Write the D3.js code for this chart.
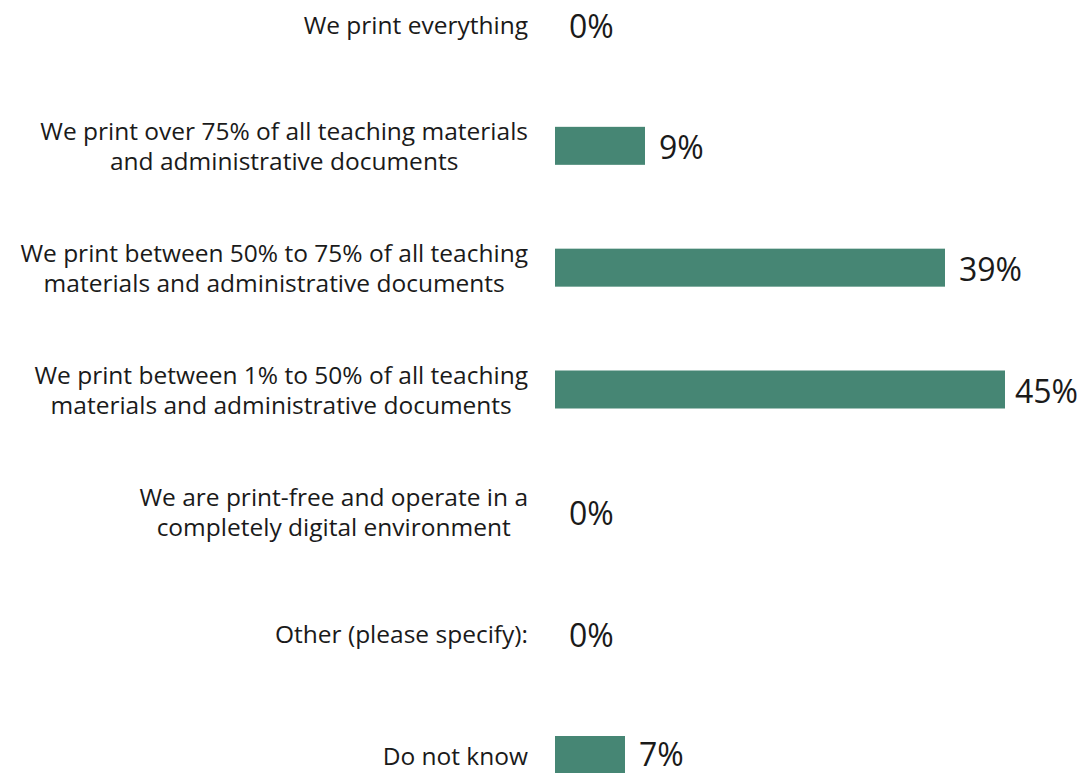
<!DOCTYPE html>
<html><head><meta charset="utf-8">
<script src="https://cdn.jsdelivr.net/npm/d3@7"></script>
<style>body{margin:0;background:#fff}</style>
</head><body>
<svg id="c" width="1081" height="773"></svg>
<script>
const categories = [
  ["We print everything"],
  ["We print over 75% of all teaching materials", "and administrative documents"],
  ["We print between 50% to 75% of all teaching", "materials and administrative documents"],
  ["We print between 1% to 50% of all teaching", "materials and administrative documents"],
  ["We are print-free and operate in a", "completely digital environment"],
  ["Other (please specify):"],
  ["Do not know"]
];
const values = [0, 9, 39, 45, 0, 0, 7];

const svg = d3.select("#c");
const x = d3.scaleLinear().domain([0, 45]).range([555, 1005]);
const y = d3.scalePoint().domain(d3.range(categories.length)).range([24, 755]);
const color = "#468674";
const barH = 38;
const labelRight = 528;

const g = svg.append("g");
const rows = g.selectAll("g.row").data(values).enter().append("g").attr("class","row");

rows.append("rect")
  .attr("x", x(0))
  .attr("y", (d,i) => y(i) - barH/2)
  .attr("width", d => x(d) - x(0))
  .attr("height", barH)
  .attr("fill", color);

rows.append("text")
  .attr("y", (d,i) => Math.min(y(i) + 1, 753))
  .attr("dominant-baseline", "central")
  .attr("font-family", "'Open Sans', sans-serif")
  .attr("font-size", 32)
  .attr("fill", "#1a1a1a")
  .text(d => d + "%")
  .each(function(d){
    const w = this.getComputedTextLength();
    d3.select(this).attr("x", Math.min(x(d) + 14, 1078 - w));
  });

const lab = g.selectAll("text.lab").data(categories).enter().append("text")
  .attr("class","lab")
  .attr("text-anchor","middle")
  .attr("font-family","'Open Sans', sans-serif")
  .attr("font-size", 24.5)
  .attr("fill","#1a1a1a");
lab.each(function(lines, i){
  const cy = y(i);
  const n = lines.length;
  const ts = d3.select(this).selectAll("tspan").data(lines).enter().append("tspan")
    .attr("y", (l,j) => cy + (j - (n-1)/2) * 30)
    .attr("dominant-baseline","central")
    .text(l => l);
  let maxW = 0;
  ts.each(function(){ maxW = Math.max(maxW, this.getComputedTextLength()); });
  ts.attr("x", labelRight - maxW/2);
});
</script>
</body></html>
